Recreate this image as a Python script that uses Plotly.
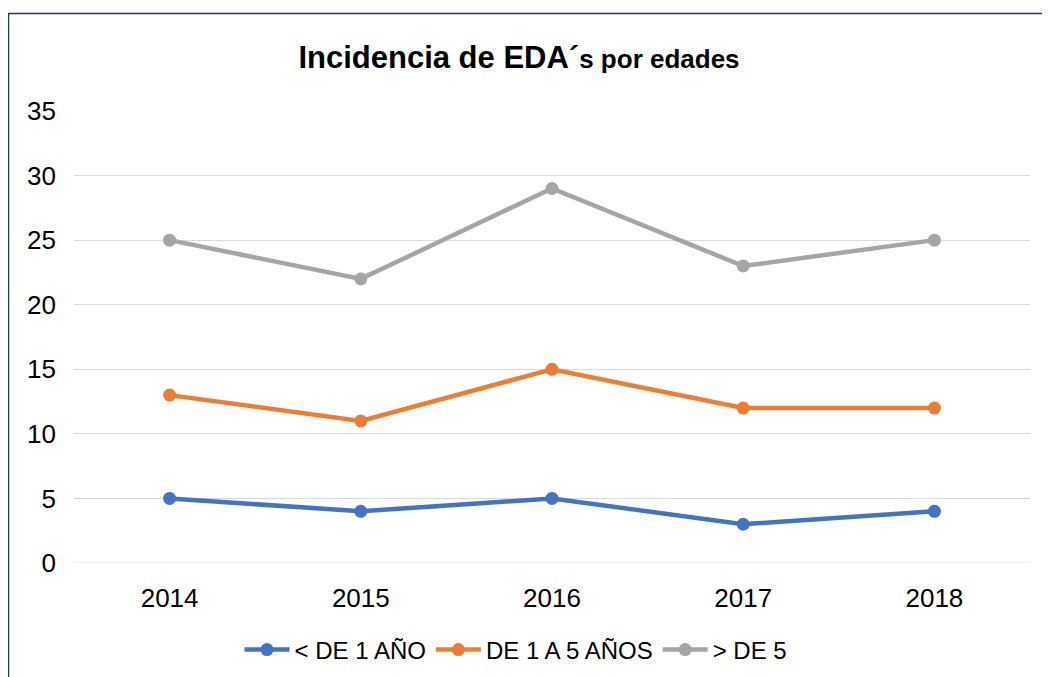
import plotly.graph_objects as go

years = ["2014", "2015", "2016", "2017", "2018"]
menor_1 = [5, 4, 5, 3, 4]
de_1_a_5 = [13, 11, 15, 12, 12]
mayor_5 = [25, 22, 29, 23, 25]
series_names = ["< DE 1 AÑO", "DE 1 A 5 AÑOS", "> DE 5"]
colors = ["#4472C4", "#ED7D31", "#A5A5A5"]

fig = go.Figure()
for name, vals, col in zip(series_names, [menor_1, de_1_a_5, mayor_5], colors):
    fig.add_trace(go.Scatter(
        x=years, y=vals, name=name, mode="lines+markers",
        line=dict(color=col, width=4.5),
        marker=dict(color=col, size=13),
    ))

# page body adds an 8px offset; layout coords = image coords - 8
OFF = 8
W, H = 1050, 677
L, T = 74 - OFF, 111 - OFF
pw, ph = 956, 452
R = W - L - pw
B = H - T - ph

fig.update_layout(
    width=W, height=H,
    margin=dict(l=L, r=R, t=T, b=B),
    paper_bgcolor="white", plot_bgcolor="white",
    font=dict(family="Liberation Sans, Arial, sans-serif", size=22, color="#000000"),
    title=dict(
        text="<b>Incidencia de EDA´<span style='font-size:26px'>s por edades</span></b>",
        x=(519 - OFF) / W, xref="container", xanchor="center",
        y=1 - (57 - OFF) / H, yref="container", yanchor="middle",
        font=dict(size=31, color="#000000"),
    ),
    xaxis=dict(
        type="category", range=[-0.5, 4.5], showgrid=False, showline=False,
        ticks="", tickfont=dict(size=26), ticklabelstandoff=17,
    ),
    yaxis=dict(
        range=[0, 35], dtick=5, showgrid=True, gridcolor="#D9D9D9", gridwidth=1,
        zeroline=False, showline=False, ticks="", tickfont=dict(size=26),
        ticklabelstandoff=17,
    ),
    legend=dict(
        orientation="h", x=(516 - OFF - L) / pw, xanchor="center", xref="paper",
        y=(T + ph - (650 - OFF)) / ph, yanchor="middle",
        font=dict(size=24), tracegroupgap=0, itemwidth=45,
    ),
    showlegend=True,
    shapes=[dict(
        type="rect", xref="paper", yref="paper",
        x0=(8.5 - OFF - L) / pw, x1=(W + 10 - L) / pw,
        y0=(T + ph - (H + 10)) / ph, y1=(T + ph - (13.5 - OFF)) / ph,
        line=dict(color="#1F3864", width=1.5), fillcolor="rgba(0,0,0,0)",
        layer="below",
    )],
)
fig.add_hline(y=0, line=dict(color="#D9D9D9", width=1), layer="below")

fig.write_html("out.html")
